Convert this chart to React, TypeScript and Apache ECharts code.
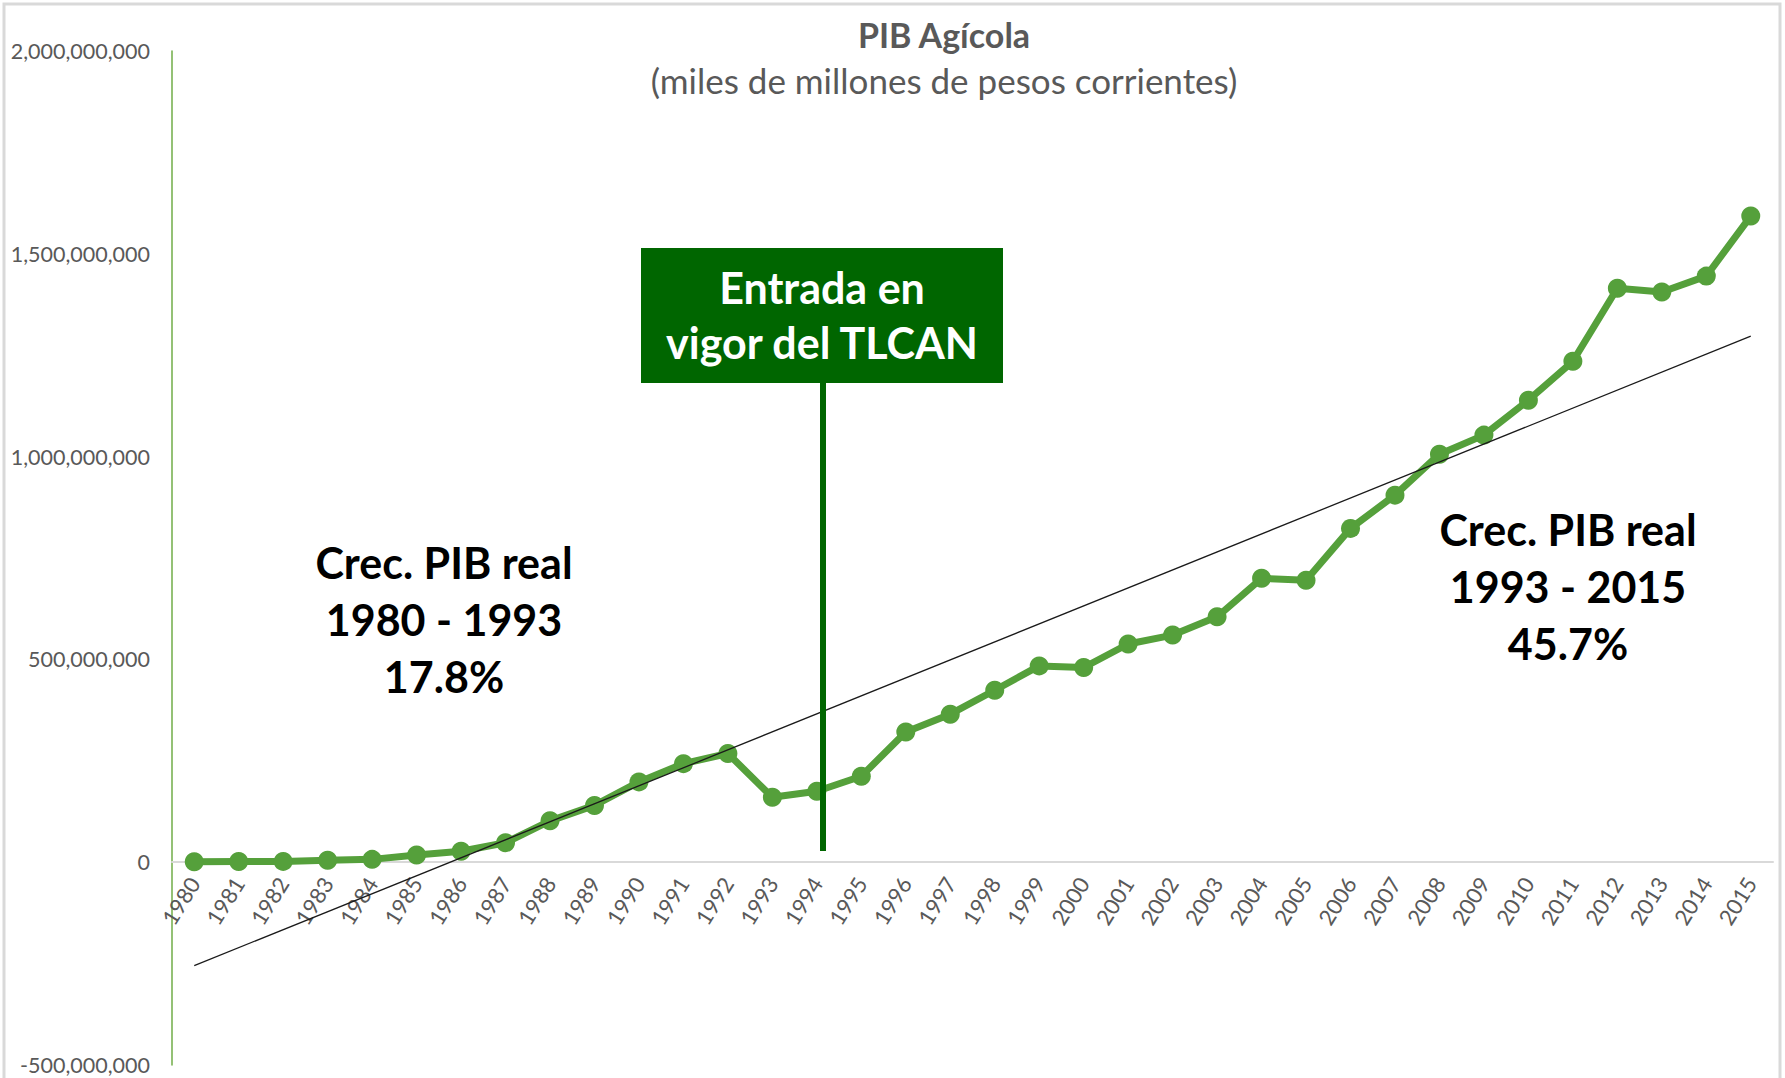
import React, { useEffect, useRef } from "react";
import * as echarts from "echarts";

const years = [
  "1980", "1981", "1982", "1983", "1984", "1985", "1986", "1987", "1988", "1989",
  "1990", "1991", "1992", "1993", "1994", "1995", "1996", "1997", "1998", "1999",
  "2000", "2001", "2002", "2003", "2004", "2005", "2006", "2007", "2008", "2009",
  "2010", "2011", "2012", "2013", "2014", "2015",
];

const pibAgricola = [
  1e6, 1.5e6, 2e6, 5e6, 7e6, 18e6, 27e6, 48e6, 102e6, 140e6,
  198e6, 243e6, 268e6, 160e6, 175e6, 212e6, 321e6, 365e6, 424e6, 484e6,
  480e6, 538e6, 560e6, 605e6, 700e6, 695e6, 823e6, 905e6, 1006e6, 1053e6,
  1139e6, 1235e6, 1415e6, 1406e6, 1445e6, 1593e6,
];

// Linear trend line endpoints
const trendYears = ["1980", "2015"];
const trendValues = [-255e6, 1297e6];

const yMin = -500000000;
const yMax = 2000000000;
const yInterval = 500000000;

const titleText = "PIB Agícola";
const subtitleText = "(miles de millones de pesos corrientes)";
const boxLines = ["Entrada en", "vigor del TLCAN"];
const leftNote = ["Crec. PIB real", "1980 - 1993", "17.8%"];
const rightNote = ["Crec. PIB real", "1993 - 2015", "45.7%"];

const FONT = "Lato, 'Open Sans', sans-serif";

const GRID_TOP = 51;
const GRID_BOTTOM = 13;
const CHART_H = 1078;

export default function App() {
  const ref = useRef<HTMLDivElement>(null);
  useEffect(() => {
    if (!ref.current) return;
    const chart = echarts.init(ref.current, null, { renderer: "svg" });
    // the category axis sits on the value-axis zero line
    const plotH = CHART_H - GRID_TOP - GRID_BOTTOM;
    const zeroOffset = -plotH * (0 - yMin) / (yMax - yMin);
    const noteText = (t: string, x: number, y: number, size: number, fill: string) => ({
      type: "text",
      x,
      y,
      z: 11,
      style: {
        text: t,
        fontFamily: FONT,
        fontWeight: "bold",
        fontSize: size,
        fill,
        textAlign: "center",
        textVerticalAlign: "middle",
      },
    });
    const option: any = {
      animation: false,
      backgroundColor: "#ffffff",
      grid: {
        left: 172,
        right: 12,
        top: GRID_TOP,
        bottom: GRID_BOTTOM,
        containLabel: false,
        outerBoundsMode: "none",
      },
      xAxis: {
        type: "category",
        data: years,
        boundaryGap: true,
        offset: zeroOffset,
        axisLine: { show: true, onZero: false, lineStyle: { color: "#d9d9d9", width: 2 } },
        axisTick: { show: false },
        axisLabel: {
          rotate: 58,
          fontSize: 22,
          color: "#595959",
          fontFamily: FONT,
          margin: 17,
          interval: 0,
        },
        splitLine: { show: false },
      },
      yAxis: {
        type: "value",
        min: yMin,
        max: yMax,
        interval: yInterval,
        axisLine: { show: true, lineStyle: { color: "#70AD47", width: 1.5 } },
        axisTick: { show: false },
        splitLine: { show: false },
        axisLabel: {
          fontSize: 21.5,
          color: "#595959",
          fontFamily: FONT,
          margin: 22,
          formatter: (v: number) => v.toLocaleString("en-US"),
        },
      },
      series: [
        {
          type: "line",
          data: pibAgricola,
          symbol: "circle",
          symbolSize: 19,
          itemStyle: { color: "#55A03B" },
          lineStyle: { color: "#55A03B", width: 7 },
          z: 2,
        },
        {
          type: "line",
          data: trendYears.map((y, i) => [y, trendValues[i]]),
          symbol: "none",
          lineStyle: { color: "#1a1a1a", width: 1.3 },
          z: 3,
        },
      ],
      graphic: [
        {
          type: "rect",
          shape: { x: 4, y: 4, width: 1776, height: 1090 },
          style: { fill: "none", stroke: "#d9d9d9", lineWidth: 3 },
          z: 0,
          silent: true,
        },
        {
          type: "text",
          x: 944,
          y: 34,
          style: {
            text: titleText,
            fontFamily: FONT,
            fontWeight: "bold",
            fontSize: 34,
            fill: "#595959",
            textAlign: "center",
            textVerticalAlign: "middle",
          },
        },
        {
          type: "text",
          x: 944,
          y: 80,
          style: {
            text: subtitleText,
            fontFamily: FONT,
            fontSize: 35,
            fill: "#595959",
            textAlign: "center",
            textVerticalAlign: "middle",
          },
        },
        {
          type: "line",
          shape: { x1: 823, y1: 383, x2: 823, y2: 851 },
          style: { stroke: "#006600", lineWidth: 6 },
          z: 10,
        },
        {
          type: "rect",
          shape: { x: 641, y: 248, width: 362, height: 135 },
          style: { fill: "#006600" },
          z: 10,
        },
        ...boxLines.map((t, i) => noteText(t, 822, 287 + i * 55, 43, "#ffffff")),
        ...leftNote.map((t, i) => noteText(t, 444, 562 + i * 57, 43, "#000000")),
        ...rightNote.map((t, i) => noteText(t, 1568, 529 + i * 57, 43, "#000000")),
      ],
    };
    chart.setOption(option);
    return () => chart.dispose();
  }, []);
  return (
    <div
      ref={ref}
      style={{ position: "fixed", left: 0, top: 0, width: 1785, height: 1078 }}
    />
  );
}
